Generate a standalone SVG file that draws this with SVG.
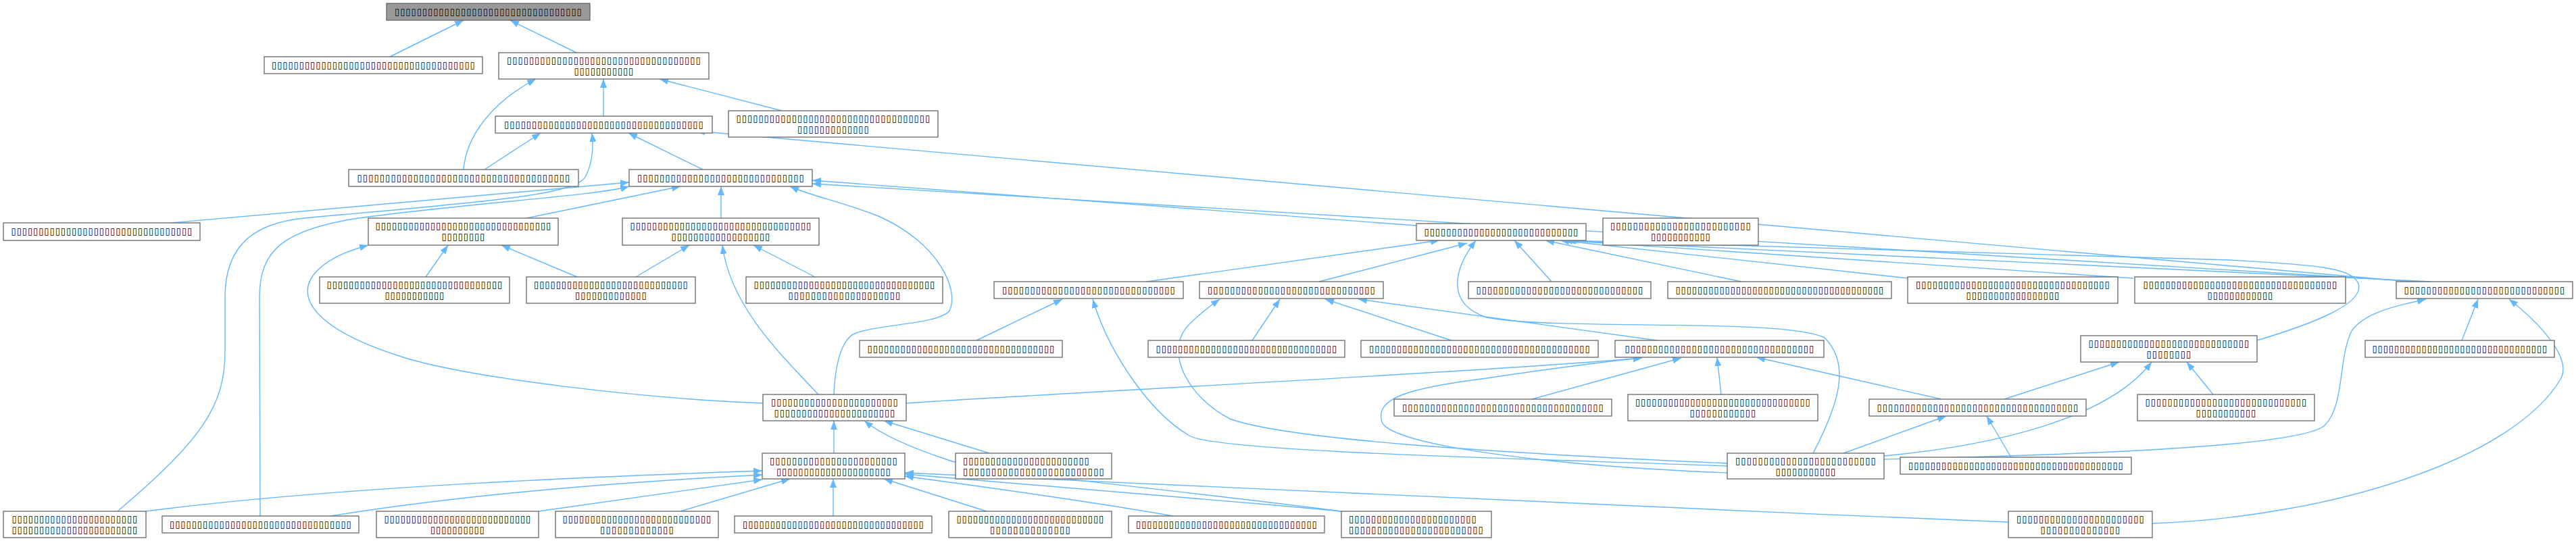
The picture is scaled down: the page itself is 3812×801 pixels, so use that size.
<svg xmlns="http://www.w3.org/2000/svg" width="3812" height="801" viewBox="0 0 3812 801">
<style>
.n rect{fill:#fff;stroke:#666;stroke-width:1.3}
#n0 rect{fill:#999}
.n text{font-family:"DejaVu Sans",sans-serif;font-size:13.5px;font-weight:bold;fill:#000;text-anchor:middle}
.n text.l{text-anchor:start}
.e path{fill:none;stroke:#63b8ff;stroke-width:1.4;marker-end:url(#ah)}
</style>
<defs>
<marker id="ah" markerUnits="userSpaceOnUse" markerWidth="14" markerHeight="10" refX="13" refY="5" orient="auto" viewBox="0 0 14 10"><path d="M0,0 L13,5 L0,10 z" fill="#63b8ff"/></marker>
</defs>
<rect width="3812" height="801" fill="#fff"/>
<g id="edges" class="e">
<path d="M577,84 L686,30"/>
<path d="M853,78 L755,30"/>
<path d="M893,172 L893,117"/>
<path d="M1157,164 L976,117"/>
<path d="M686,251 C690,200 730,150 793,117"/>
<path d="M717,251 L800,197"/>
<path d="M1040,251 L930,197"/>
<path d="M174,757 C300,650 333,600 333,520 L333,440 C333,360 380,330 450,323 C700,300 850,290 866,262 C878,240 878,215 876,197"/>
<path d="M385,764 L384,440 C384,370 420,340 530,323 C700,300 880,290 931,276"/>
<path d="M253,330 L931,270"/>
<path d="M779,323 L1007,276"/>
<path d="M1067,323 L1067,276"/>
<path d="M2096,334 L1202,267"/>
<path d="M3566,417 L1030,194"/>
<path d="M3580,417 L1202,272"/>
<path d="M3597,417 L2318,356"/>
<path d="M2824,412 L2309,356"/>
<path d="M3157,412 L2314,356"/>
<path d="M3340,504 C3420,480 3500,450 3490,420 C3480,395 3420,392 3300,385 L2320,356"/>
<path d="M1697,417 L2130,356"/>
<path d="M1952,417 L2171,360"/>
<path d="M2296,417 L2241,356"/>
<path d="M2577,417 L2287,356"/>
<path d="M2683,671 C2720,600 2740,540 2700,500 C2640,470 2300,490 2200,470 C2140,450 2150,400 2184,356"/>
<path d="M630,410 L663,363"/>
<path d="M854,410 L742,363"/>
<path d="M941,410 L1020,363"/>
<path d="M1206,410 L1115,363"/>
<path d="M1211,584 C1150,520 1080,450 1069,363"/>
<path d="M1129,597 C950,590 700,560 600,530 C470,490 430,440 470,400 C490,380 520,370 545,363"/>
<path d="M1234,584 C1236,540 1245,500 1267,493 C1300,480 1390,480 1405,460 C1420,430 1390,360 1300,320 C1250,300 1200,290 1169,276"/>
<path d="M1341,597 C1600,580 2200,550 2430,530"/>
<path d="M1234,671 L1234,623"/>
<path d="M1464,671 L1308,623"/>
<path d="M1985,757 C1700,720 1450,700 1400,680 C1340,660 1300,640 1279,623"/>
<path d="M216,757 C500,720 900,705 1128,697"/>
<path d="M489,764 C700,730 950,712 1128,703"/>
<path d="M797,757 L1128,710"/>
<path d="M1007,757 L1169,709"/>
<path d="M1233,764 L1233,709"/>
<path d="M1460,757 L1308,709"/>
<path d="M1736,764 C1600,740 1450,720 1339,705"/>
<path d="M1985,757 C1750,735 1500,715 1339,702"/>
<path d="M2972,773 C2400,750 1800,720 1339,700"/>
<path d="M3185,775 C3450,765 3720,680 3790,560 C3805,530 3760,480 3713,443"/>
<path d="M3643,504 L3667,443"/>
<path d="M2788,680 C3000,675 3400,665 3440,630 C3470,600 3460,530 3480,490 C3500,460 3560,450 3590,443"/>
<path d="M1445,504 L1572,443"/>
<path d="M1853,504 L1894,443"/>
<path d="M2148,504 L1961,443"/>
<path d="M2452,504 L2010,443"/>
<path d="M2556,690 C2300,680 1800,670 1760,645 C1700,610 1640,520 1617,443"/>
<path d="M2556,686 C2200,670 1900,650 1820,620 C1760,590 1720,520 1760,480 C1780,460 1795,450 1805,443"/>
<path d="M2267,591 L2488,530"/>
<path d="M2547,584 L2541,529"/>
<path d="M2873,591 L2599,529"/>
<path d="M2556,700 C2300,690 2060,660 2045,625 C2035,590 2080,575 2200,560 C2300,545 2380,535 2430,530"/>
<path d="M2976,677 L2940,616"/>
<path d="M2728,671 L2880,616"/>
<path d="M2966,591 L3136,536"/>
<path d="M2788,675 C2950,660 3120,620 3184,536"/>
<path d="M3275,584 L3236,536"/>
</g>
<g id="n0" class="n"><rect x="572" y="5" width="301" height="25"/><text x="722.5" y="22" textLength="277">▯▯▯▯▯▯▯▯▯▯▯▯▯▯▯▯▯▯▯▯▯▯▯▯▯▯▯▯▯▯▯▯▯▯</text></g>
<g id="n1" class="n"><rect x="391" y="84" width="323" height="25"/><text x="552.5" y="101" textLength="301">▯▯▯▯▯▯▯▯▯▯▯▯▯▯▯▯▯▯▯▯▯▯▯▯▯▯▯▯▯▯▯▯▯▯▯▯▯</text></g>
<g id="n2" class="n"><rect x="738" y="78" width="311" height="39"/><text><tspan x="893.5" y="94" textLength="287">▯▯▯▯▯▯▯▯▯▯▯▯▯▯▯▯▯▯▯▯▯▯▯▯▯▯▯▯▯▯▯▯▯▯▯</tspan><tspan x="893.5" y="110" textLength="88">▯▯▯▯▯▯▯▯▯▯▯</tspan></text></g>
<g id="n3" class="n"><rect x="733" y="172" width="321" height="25"/><text x="893.5" y="189" textLength="295">▯▯▯▯▯▯▯▯▯▯▯▯▯▯▯▯▯▯▯▯▯▯▯▯▯▯▯▯▯▯▯▯▯▯▯▯</text></g>
<g id="n4" class="n"><rect x="1078" y="164" width="310" height="39"/><text><tspan x="1233" y="180" textLength="287">▯▯▯▯▯▯▯▯▯▯▯▯▯▯▯▯▯▯▯▯▯▯▯▯▯▯▯▯▯▯▯▯▯▯▯</tspan><tspan x="1233" y="196" textLength="106">▯▯▯▯▯▯▯▯▯▯▯▯▯</tspan></text></g>
<g id="n5" class="n"><rect x="516" y="251" width="340" height="25"/><text x="686" y="268" textLength="315">▯▯▯▯▯▯▯▯▯▯▯▯▯▯▯▯▯▯▯▯▯▯▯▯▯▯▯▯▯▯▯▯▯▯▯▯▯▯</text></g>
<g id="n6" class="n"><rect x="931" y="251" width="271" height="25"/><text x="1066.5" y="268" textLength="247">▯▯▯▯▯▯▯▯▯▯▯▯▯▯▯▯▯▯▯▯▯▯▯▯▯▯▯▯▯▯</text></g>
<g id="n7" class="n"><rect x="5" y="330" width="291" height="26"/><text x="150.5" y="347" textLength="268">▯▯▯▯▯▯▯▯▯▯▯▯▯▯▯▯▯▯▯▯▯▯▯▯▯▯▯▯▯▯▯▯▯</text></g>
<g id="n8" class="n"><rect x="545" y="323" width="281" height="40"/><text><tspan x="685.5" y="339" textLength="260">▯▯▯▯▯▯▯▯▯▯▯▯▯▯▯▯▯▯▯▯▯▯▯▯▯▯▯▯▯▯▯▯</tspan><tspan x="685.5" y="355" textLength="64">▯▯▯▯▯▯▯▯</tspan></text></g>
<g id="n9" class="n"><rect x="921" y="323" width="291" height="40"/><text><tspan x="1066.5" y="339" textLength="268">▯▯▯▯▯▯▯▯▯▯▯▯▯▯▯▯▯▯▯▯▯▯▯▯▯▯▯▯▯▯▯▯▯</tspan><tspan x="1066.5" y="355" textLength="146">▯▯▯▯▯▯▯▯▯▯▯▯▯▯▯▯▯▯</tspan></text></g>
<g id="n10" class="n"><rect x="2096" y="331" width="251" height="25"/><text x="2221.5" y="348" textLength="228">▯▯▯▯▯▯▯▯▯▯▯▯▯▯▯▯▯▯▯▯▯▯▯▯▯▯▯▯</text></g>
<g id="n11" class="n"><rect x="2372" y="323" width="230" height="40"/><text><tspan x="2487" y="339" textLength="208">▯▯▯▯▯▯▯▯▯▯▯▯▯▯▯▯▯▯▯▯▯▯▯▯▯</tspan><tspan x="2487" y="355" textLength="88">▯▯▯▯▯▯▯▯▯▯▯</tspan></text></g>
<g id="n12" class="n"><rect x="473" y="410" width="281" height="39"/><text><tspan x="613.5" y="426" textLength="260">▯▯▯▯▯▯▯▯▯▯▯▯▯▯▯▯▯▯▯▯▯▯▯▯▯▯▯▯▯▯▯▯</tspan><tspan x="613.5" y="442" textLength="88">▯▯▯▯▯▯▯▯▯▯▯</tspan></text></g>
<g id="n13" class="n"><rect x="779" y="410" width="250" height="39"/><text><tspan x="904" y="426" textLength="228">▯▯▯▯▯▯▯▯▯▯▯▯▯▯▯▯▯▯▯▯▯▯▯▯▯▯▯▯</tspan><tspan x="904" y="442" textLength="106">▯▯▯▯▯▯▯▯▯▯▯▯▯</tspan></text></g>
<g id="n14" class="n"><rect x="1104" y="410" width="291" height="39"/><text><tspan x="1249.5" y="426" textLength="268">▯▯▯▯▯▯▯▯▯▯▯▯▯▯▯▯▯▯▯▯▯▯▯▯▯▯▯▯▯▯▯▯▯</tspan><tspan x="1249.5" y="442" textLength="166">▯▯▯▯▯▯▯▯▯▯▯▯▯▯▯▯▯▯▯▯</tspan></text></g>
<g id="n15" class="n"><rect x="1471" y="417" width="280" height="25"/><text x="1611" y="434" textLength="256">▯▯▯▯▯▯▯▯▯▯▯▯▯▯▯▯▯▯▯▯▯▯▯▯▯▯▯▯▯▯▯</text></g>
<g id="n16" class="n"><rect x="1775" y="417" width="272" height="25"/><text x="1911" y="434" textLength="248">▯▯▯▯▯▯▯▯▯▯▯▯▯▯▯▯▯▯▯▯▯▯▯▯▯▯▯▯▯▯</text></g>
<g id="n17" class="n"><rect x="2173" y="417" width="270" height="25"/><text x="2308" y="434" textLength="247">▯▯▯▯▯▯▯▯▯▯▯▯▯▯▯▯▯▯▯▯▯▯▯▯▯▯▯▯▯▯</text></g>
<g id="n18" class="n"><rect x="2468" y="417" width="331" height="25"/><text x="2633.5" y="434" textLength="308">▯▯▯▯▯▯▯▯▯▯▯▯▯▯▯▯▯▯▯▯▯▯▯▯▯▯▯▯▯▯▯▯▯▯▯▯▯▯</text></g>
<g id="n19" class="n"><rect x="2823" y="410" width="311" height="39"/><text><tspan x="2978.5" y="426" textLength="287">▯▯▯▯▯▯▯▯▯▯▯▯▯▯▯▯▯▯▯▯▯▯▯▯▯▯▯▯▯▯▯▯▯▯▯</tspan><tspan x="2978.5" y="442" textLength="138">▯▯▯▯▯▯▯▯▯▯▯▯▯▯▯▯▯</tspan></text></g>
<g id="n20" class="n"><rect x="3159" y="410" width="312" height="39"/><text><tspan x="3315" y="426" textLength="287">▯▯▯▯▯▯▯▯▯▯▯▯▯▯▯▯▯▯▯▯▯▯▯▯▯▯▯▯▯▯▯▯▯▯▯</tspan><tspan x="3315" y="442" textLength="97">▯▯▯▯▯▯▯▯▯▯▯▯</tspan></text></g>
<g id="n21" class="n"><rect x="3546" y="417" width="261" height="25"/><text x="3676.5" y="434" textLength="238">▯▯▯▯▯▯▯▯▯▯▯▯▯▯▯▯▯▯▯▯▯▯▯▯▯▯▯▯▯</text></g>
<g id="n22" class="n"><rect x="1272" y="504" width="300" height="25"/><text x="1422" y="521" textLength="277">▯▯▯▯▯▯▯▯▯▯▯▯▯▯▯▯▯▯▯▯▯▯▯▯▯▯▯▯▯▯▯▯▯▯</text></g>
<g id="n23" class="n"><rect x="1699" y="504" width="291" height="25"/><text x="1844.5" y="521" textLength="268">▯▯▯▯▯▯▯▯▯▯▯▯▯▯▯▯▯▯▯▯▯▯▯▯▯▯▯▯▯▯▯▯▯</text></g>
<g id="n24" class="n"><rect x="2014" y="504" width="351" height="25"/><text x="2189.5" y="521" textLength="327">▯▯▯▯▯▯▯▯▯▯▯▯▯▯▯▯▯▯▯▯▯▯▯▯▯▯▯▯▯▯▯▯▯▯▯▯▯▯▯▯</text></g>
<g id="n25" class="n"><rect x="2390" y="504" width="309" height="25"/><text x="2544.5" y="521" textLength="280">▯▯▯▯▯▯▯▯▯▯▯▯▯▯▯▯▯▯▯▯▯▯▯▯▯▯▯▯▯▯▯▯▯▯</text></g>
<g id="n26" class="n"><rect x="3079" y="497" width="261" height="39"/><text><tspan x="3209.5" y="513" textLength="238">▯▯▯▯▯▯▯▯▯▯▯▯▯▯▯▯▯▯▯▯▯▯▯▯▯▯▯▯▯</tspan><tspan x="3209.5" y="529" textLength="66">▯▯▯▯▯▯▯▯</tspan></text></g>
<g id="n27" class="n"><rect x="3500" y="504" width="280" height="25"/><text x="3640" y="521" textLength="259">▯▯▯▯▯▯▯▯▯▯▯▯▯▯▯▯▯▯▯▯▯▯▯▯▯▯▯▯▯▯▯▯</text></g>
<g id="n28" class="n"><rect x="1129" y="584" width="212" height="39"/><text><tspan x="1235" y="600" textLength="188">▯▯▯▯▯▯▯▯▯▯▯▯▯▯▯▯▯▯▯▯▯▯▯</tspan><tspan x="1235" y="616" textLength="179">▯▯▯▯▯▯▯▯▯▯▯▯▯▯▯▯▯▯▯▯▯▯</tspan></text></g>
<g id="n29" class="n"><rect x="2766" y="591" width="321" height="25"/><text x="2926.5" y="608" textLength="298">▯▯▯▯▯▯▯▯▯▯▯▯▯▯▯▯▯▯▯▯▯▯▯▯▯▯▯▯▯▯▯▯▯▯▯▯</text></g>
<g id="n30" class="n"><rect x="3163" y="584" width="262" height="39"/><text><tspan x="3294" y="600" textLength="239">▯▯▯▯▯▯▯▯▯▯▯▯▯▯▯▯▯▯▯▯▯▯▯▯▯▯▯▯▯</tspan><tspan x="3294" y="616" textLength="89">▯▯▯▯▯▯▯▯▯▯▯</tspan></text></g>
<g id="n31" class="n"><rect x="1128" y="671" width="211" height="38"/><text><tspan x="1233.5" y="687" textLength="189">▯▯▯▯▯▯▯▯▯▯▯▯▯▯▯▯▯▯▯▯▯▯▯</tspan><tspan x="1233.5" y="703" textLength="169">▯▯▯▯▯▯▯▯▯▯▯▯▯▯▯▯▯▯▯▯▯</tspan></text></g>
<g id="n32" class="n"><rect x="1414" y="671" width="231" height="38"/><text class="l"><tspan x="1425" y="687" textLength="187">▯▯▯▯▯▯▯▯▯▯▯▯▯▯▯▯▯▯▯▯▯▯▯</tspan><tspan x="1425" y="703" textLength="209">▯▯▯▯▯▯▯▯▯▯▯▯▯▯▯▯▯▯▯▯▯▯▯▯▯</tspan></text></g>
<g id="n33" class="n"><rect x="2063" y="591" width="322" height="25"/><text x="2224" y="608" textLength="298">▯▯▯▯▯▯▯▯▯▯▯▯▯▯▯▯▯▯▯▯▯▯▯▯▯▯▯▯▯▯▯▯▯▯▯▯</text></g>
<g id="n34" class="n"><rect x="2409" y="584" width="281" height="39"/><text><tspan x="2549.5" y="600" textLength="259">▯▯▯▯▯▯▯▯▯▯▯▯▯▯▯▯▯▯▯▯▯▯▯▯▯▯▯▯▯▯▯▯</tspan><tspan x="2549.5" y="616" textLength="98">▯▯▯▯▯▯▯▯▯▯▯▯</tspan></text></g>
<g id="n35" class="n"><rect x="2556" y="671" width="232" height="38"/><text><tspan x="2672" y="687" textLength="208">▯▯▯▯▯▯▯▯▯▯▯▯▯▯▯▯▯▯▯▯▯▯▯▯▯</tspan><tspan x="2672" y="703" textLength="89">▯▯▯▯▯▯▯▯▯▯▯</tspan></text></g>
<g id="n36" class="n"><rect x="2812" y="677" width="342" height="25"/><text x="2983" y="694" textLength="318">▯▯▯▯▯▯▯▯▯▯▯▯▯▯▯▯▯▯▯▯▯▯▯▯▯▯▯▯▯▯▯▯▯▯▯▯▯▯▯</text></g>
<g id="j1" class="n"><rect x="5" y="757" width="211" height="39"/><text><tspan x="110.5" y="773" textLength="186">▯▯▯▯▯▯▯▯▯▯▯▯▯▯▯▯▯▯▯▯▯▯▯</tspan><tspan x="110.5" y="789" textLength="186">▯▯▯▯▯▯▯▯▯▯▯▯▯▯▯▯▯▯▯▯▯▯▯</tspan></text></g>
<g id="j2" class="n"><rect x="240" y="764" width="291" height="25"/><text x="385.5" y="781" textLength="269">▯▯▯▯▯▯▯▯▯▯▯▯▯▯▯▯▯▯▯▯▯▯▯▯▯▯▯▯▯▯▯▯▯</text></g>
<g id="j3" class="n"><rect x="557" y="757" width="240" height="39"/><text><tspan x="677" y="773" textLength="217">▯▯▯▯▯▯▯▯▯▯▯▯▯▯▯▯▯▯▯▯▯▯▯▯▯▯▯</tspan><tspan x="677" y="789" textLength="80">▯▯▯▯▯▯▯▯▯▯</tspan></text></g>
<g id="j4" class="n"><rect x="822" y="757" width="241" height="39"/><text><tspan x="942.5" y="773" textLength="220">▯▯▯▯▯▯▯▯▯▯▯▯▯▯▯▯▯▯▯▯▯▯▯▯▯▯▯</tspan><tspan x="942.5" y="789" textLength="109">▯▯▯▯▯▯▯▯▯▯▯▯▯</tspan></text></g>
<g id="j5" class="n"><rect x="1087" y="764" width="292" height="25"/><text x="1233" y="781" textLength="268">▯▯▯▯▯▯▯▯▯▯▯▯▯▯▯▯▯▯▯▯▯▯▯▯▯▯▯▯▯▯▯▯▯</text></g>
<g id="j6" class="n"><rect x="1404" y="757" width="241" height="39"/><text><tspan x="1524.5" y="773" textLength="218">▯▯▯▯▯▯▯▯▯▯▯▯▯▯▯▯▯▯▯▯▯▯▯▯▯▯▯</tspan><tspan x="1524.5" y="789" textLength="119">▯▯▯▯▯▯▯▯▯▯▯▯▯▯</tspan></text></g>
<g id="j7" class="n"><rect x="1670" y="764" width="290" height="25"/><text x="1815" y="781" textLength="268">▯▯▯▯▯▯▯▯▯▯▯▯▯▯▯▯▯▯▯▯▯▯▯▯▯▯▯▯▯▯▯▯▯</text></g>
<g id="j8" class="n"><rect x="1985" y="757" width="222" height="39"/><text class="l"><tspan x="1996" y="773" textLength="189">▯▯▯▯▯▯▯▯▯▯▯▯▯▯▯▯▯▯▯▯▯▯▯</tspan><tspan x="1996" y="789" textLength="199">▯▯▯▯▯▯▯▯▯▯▯▯▯▯▯▯▯▯▯▯▯▯▯▯</tspan></text></g>
<g id="j9" class="n"><rect x="2972" y="757" width="213" height="39"/><text><tspan x="3078.5" y="773" textLength="189">▯▯▯▯▯▯▯▯▯▯▯▯▯▯▯▯▯▯▯▯▯▯▯</tspan><tspan x="3078.5" y="789" textLength="118">▯▯▯▯▯▯▯▯▯▯▯▯▯▯</tspan></text></g>
</svg>
